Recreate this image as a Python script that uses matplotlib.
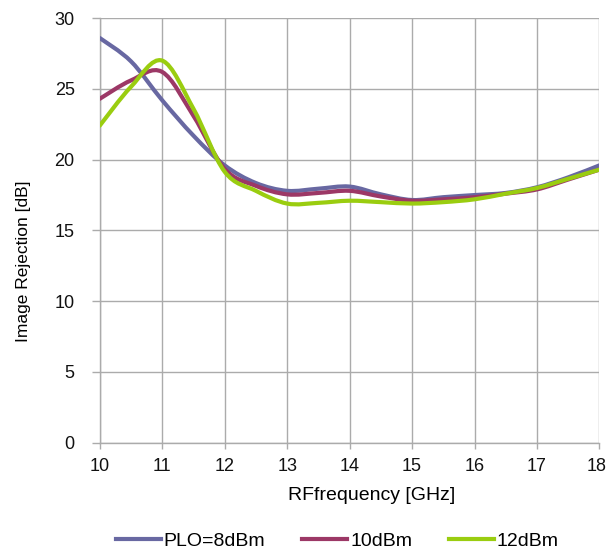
# Image rejection vs RF frequency, three LO power levels (Excel-style smoothed lines)

import matplotlib
matplotlib.use("Agg")
import matplotlib.pyplot as plt
import matplotlib.transforms as mtransforms
from matplotlib.path import Path
from matplotlib.patches import PathPatch
from matplotlib.lines import Line2D

plt.rcParams["font.family"] = ["Liberation Sans", "DejaVu Sans"]

FREQ_GHZ = [10, 10.5, 11, 11.5, 12, 12.5, 13, 13.5, 14,
            14.5, 15, 15.5, 16, 16.5, 17, 17.5, 18]
IR_8DBM  = [28.6, 26.95, 24.2, 21.7, 19.6, 18.35, 17.8, 17.95, 18.1,
            17.55, 17.15, 17.35, 17.5, 17.65, 18.05, 18.75, 19.6]
IR_10DBM = [24.3, 25.6, 26.2, 23.1, 19.35, 18.15, 17.55, 17.65, 17.8,
            17.4, 17.1, 17.2, 17.35, 17.6, 17.9, 18.6, 19.3]
IR_12DBM = [22.4, 25.15, 27.0, 23.6, 19.15, 17.8, 16.9, 16.95, 17.1,
            17.0, 16.9, 17.0, 17.2, 17.6, 18.0, 18.65, 19.3]

LABELS = ["PLO=8dBm", "10dBm", "12dBm"]
COLORS = ["#6868A2", "#9C3866", "#9ACD10"]


def smooth_path(xs, ys):
    # cubic bezier through the points, tangents like Excel's smoothed line
    pts = list(zip(xs, ys))
    verts = [pts[0]]
    codes = [Path.MOVETO]
    n = len(pts)
    for i in range(n - 1):
        p0 = pts[i - 1] if i > 0 else pts[i]
        p1 = pts[i]
        p2 = pts[i + 1]
        p3 = pts[i + 2] if i + 2 < n else pts[i + 1]
        c1 = (p1[0] + (p2[0] - p0[0]) / 6, p1[1] + (p2[1] - p0[1]) / 6)
        c2 = (p2[0] - (p3[0] - p1[0]) / 6, p2[1] - (p3[1] - p1[1]) / 6)
        verts += [c1, c2, p2]
        codes += [Path.CURVE4] * 3
    return Path(verts, codes)


fig = plt.figure(figsize=(6.08, 5.5), dpi=100)
ax = fig.add_axes([0.164, 0.195, 0.822, 0.772])

for ys, col in zip([IR_8DBM, IR_10DBM, IR_12DBM], COLORS):
    ax.add_patch(PathPatch(smooth_path(FREQ_GHZ, ys), facecolor="none",
                           edgecolor=col, linewidth=3.0, capstyle="round",
                           zorder=3))

ax.set_xlim(10, 18)
ax.set_ylim(0, 30)
ax.set_xticks(range(10, 19))
ax.set_yticks(range(0, 31, 5))
ax.grid(True, color="#ABABAB", linewidth=1.0)
ax.set_axisbelow(True)
for side in ["top", "right"]:
    ax.spines[side].set_visible(False)
for side in ["left", "bottom"]:
    ax.spines[side].set_color("#ABABAB")
    ax.spines[side].set_linewidth(1.0)
ax.tick_params(axis="both", colors="#ABABAB", labelcolor="#111111",
               labelsize=13, width=1.0)
ax.tick_params(axis="y", length=6, pad=12)
ax.tick_params(axis="x", length=4, pad=7)

# nudge the last x label inward so it stays on the canvas
fig.canvas.draw()
last = ax.get_xticklabels()[-1]
last.set_transform(last.get_transform() +
                   mtransforms.ScaledTranslation(-1.8 / 72, 0, fig.dpi_scale_trans))

ax.set_xlabel("RFfrequency [GHz]", fontsize=14)
ax.xaxis.set_label_coords(0.544, -0.124)
ax.xaxis.label.set_va("center")
ax.set_ylabel("Image Rejection [dB]", fontsize=12.5)
ax.yaxis.set_label_coords(-0.152, 0.427)
ax.yaxis.label.set_va("center")

handles = [Line2D([], [], color=c, linewidth=3.0) for c in COLORS]
fig.legend(handles, LABELS, loc="lower center", ncol=3, frameon=False,
           fontsize=14, handlelength=2.3, handletextpad=0.15,
           columnspacing=1.9, bbox_to_anchor=(0.555, -0.032))

fig.savefig("out.png", dpi=100)
